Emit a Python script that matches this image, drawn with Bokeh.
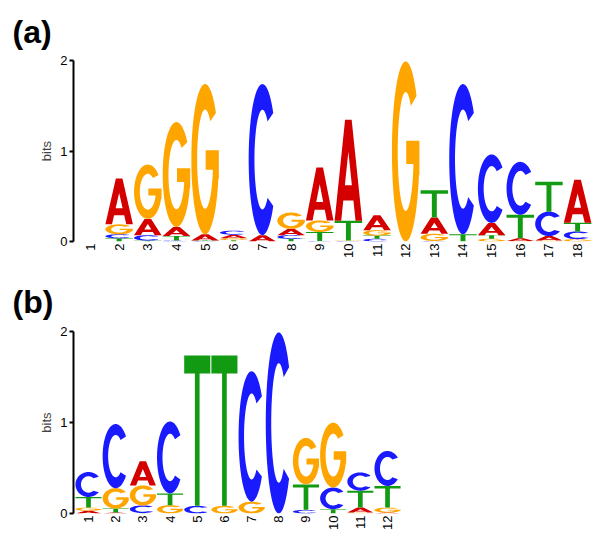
import numpy as np
from bokeh.plotting import figure
from bokeh.layouts import column
from bokeh.models import FixedTicker, Range1d
from bokeh.embed import file_html
from bokeh.resources import INLINE

# ---------------- data (bits per letter per position) ----------------
pos_a = list(range(1, 19))
A_a = [0, 0.505, 0.18, 0.10, 0.07, 0.04, 0.07, 0.07, 0.585, 1.115, 0.165, 0, 0.18, 0.0, 0.135, 0.03, 0.05, 0.476]
C_a = [0, 0.045, 0.06, 0.01, 0.005, 0.045, 1.67, 0.04, 0.005, 0.005, 0.03, 0, 0.005, 1.66, 0.757, 0.585, 0.27, 0.085]
G_a = [0, 0.11, 0.60, 1.16, 1.66, 0.02, 0.0, 0.18, 0.128, 0.005, 0.06, 1.99, 0.08, 0.0, 0.03, 0.005, 0.01, 0.026]
T_a = [0, 0.035, 0.01, 0.05, 0.005, 0.015, 0.0, 0.03, 0.10, 0.22, 0.035, 0, 0.30, 0.08, 0.04, 0.26, 0.33, 0.095]

pos_b = list(range(1, 13))
A_b = [0.03, 0.01, 0.264, 0.0, 0.0, 0.0, 0.0, 0.0, 0.0, 0.0, 0.055, 0.01]
C_b = [0.274, 0.705, 0.084, 0.79, 0.084, 0.0, 1.433, 1.99, 0.04, 0.237, 0.2, 0.384]
G_b = [0.035, 0.223, 0.22, 0.091, 0.0, 0.084, 0.13, 0.0, 0.51, 0.713, 0.01, 0.055]
T_b = [0.117, 0.045, 0.005, 0.13, 1.653, 1.653, 0.0, 0.0, 0.28, 0.048, 0.186, 0.238]

y_ticks = [0, 1, 2]
colors = {"A": "#d40000", "C": "#1a1aff", "G": "#ffa500", "T": "#139a13"}
FONT = "Liberation Sans"


# ---------------- letter outlines in a unit box ----------------
def arc(cx, cy, rx, ry, a0, a1, n=60):
    t = np.radians(np.linspace(a0, a1, n))
    return list(cx + rx * np.cos(t)), list(cy + ry * np.sin(t))


def glyph(letter):
    if letter == "A":
        outer = [(0, 0), (0.38, 1), (0.62, 1), (1, 0), (0.76, 0), (0.684, 0.2), (0.316, 0.2), (0.24, 0)]
        hole = [(0.373, 0.35), (0.627, 0.35), (0.5, 0.684)]
        return [tuple(map(list, zip(*outer))), tuple(map(list, zip(*hole)))]
    if letter == "T":
        outer = [(0, 1), (1, 1), (1, 0.88), (0.59, 0.88), (0.59, 0), (0.41, 0), (0.41, 0.88), (0, 0.88)]
        return [tuple(map(list, zip(*outer)))]
    if letter == "C":
        ox, oy = arc(0.5, 0.5, 0.5, 0.5, 38, 322)
        ix, iy = arc(0.5, 0.5, 0.29, 0.33, 310, 50)
        return [(ox + ix, oy + iy)]
    if letter == "G":
        ox, oy = arc(0.5, 0.5, 0.5, 0.5, 38, 345)
        bx = [1.0, 1.0, 0.52, 0.52, 0.78]
        by = [0.37, 0.56, 0.56, 0.43, 0.43]
        ix, iy = arc(0.5, 0.5, 0.29, 0.33, -15, -310)
        return [(ox + bx + ix, oy + by + iy)]


GLYPHS = {L: glyph(L) for L in "ACGT"}


def logo(p, pos, A, C, G, T, pad=0.02):
    xs, ys, fills = [], [], []
    for i, x in enumerate(pos):
        hs = sorted([("A", A[i]), ("C", C[i]), ("G", G[i]), ("T", T[i])], key=lambda t: t[1])
        base = 0.0
        x0 = x - 0.5 + pad
        w = 1 - 2 * pad
        for L, h in hs:
            if h <= 0:
                continue
            rings = GLYPHS[L]
            xs.append([[[x0 + u * w for u in rx] for rx, ry in rings]])
            ys.append([[[base + v * h for v in ry] for rx, ry in rings]])
            fills.append(colors[L])
            base += h
    p.multi_polygons(xs=xs, ys=ys, fill_color=fills, line_color=None)


def make_fig(pos, A, C, G, T, xr, height, top, bottom, title, standoff):
    p = figure(width=592, height=height, x_range=Range1d(*xr), y_range=Range1d(0, 2),
               output_backend="svg", toolbar_location=None, title=title,
               min_border_left=73, min_border_right=0, min_border_top=top, min_border_bottom=bottom)
    p.outline_line_color = None
    p.grid.visible = False
    p.title.text_font = FONT
    p.title.text_font_size = "32px"
    p.title.text_font_style = "bold"
    p.title.align = "left"
    p.title.offset = -61
    p.title.standoff = standoff
    p.title.text_color = "black"
    logo(p, pos, A, C, G, T)

    xa = p.xaxis[0]
    xa.ticker = FixedTicker(ticks=pos)
    xa.axis_line_color = None
    xa.major_tick_line_color = None
    xa.minor_tick_line_color = None
    xa.major_tick_out = 0
    xa.major_tick_in = 0
    xa.major_label_orientation = np.pi / 2
    xa.major_label_standoff = 2
    xa.major_label_text_font = FONT
    xa.major_label_text_font_size = "13px"
    xa.major_label_text_color = "black"

    ya = p.yaxis[0]
    ya.ticker = FixedTicker(ticks=y_ticks)
    ya.axis_label = "bits"
    ya.axis_label_text_font = FONT
    ya.axis_label_text_font_size = "13px"
    ya.axis_label_text_font_style = "normal"
    ya.axis_label_standoff = 3
    ya.axis_line_width = 2
    ya.axis_line_color = "black"
    ya.major_tick_line_width = 2
    ya.major_tick_line_color = "black"
    ya.major_tick_out = 4
    ya.major_tick_in = 0
    ya.minor_tick_line_color = None
    ya.major_label_standoff = 2
    ya.major_label_text_font = FONT
    ya.major_label_text_font_size = "13px"
    ya.major_label_text_color = "black"
    return p


pa = make_fig(pos_a, A_a, C_a, G_a, T_a, (0.407, 18.52), 270, 59, 29, "(a)", 22)
pb = make_fig(pos_b, A_b, C_b, G_b, T_b, (0.448, 19.54), 262, 61, 18, "(b)", 23)

layout = column(pa, pb, spacing=0)
open("out.html", "w").write(file_html(layout, INLINE))
